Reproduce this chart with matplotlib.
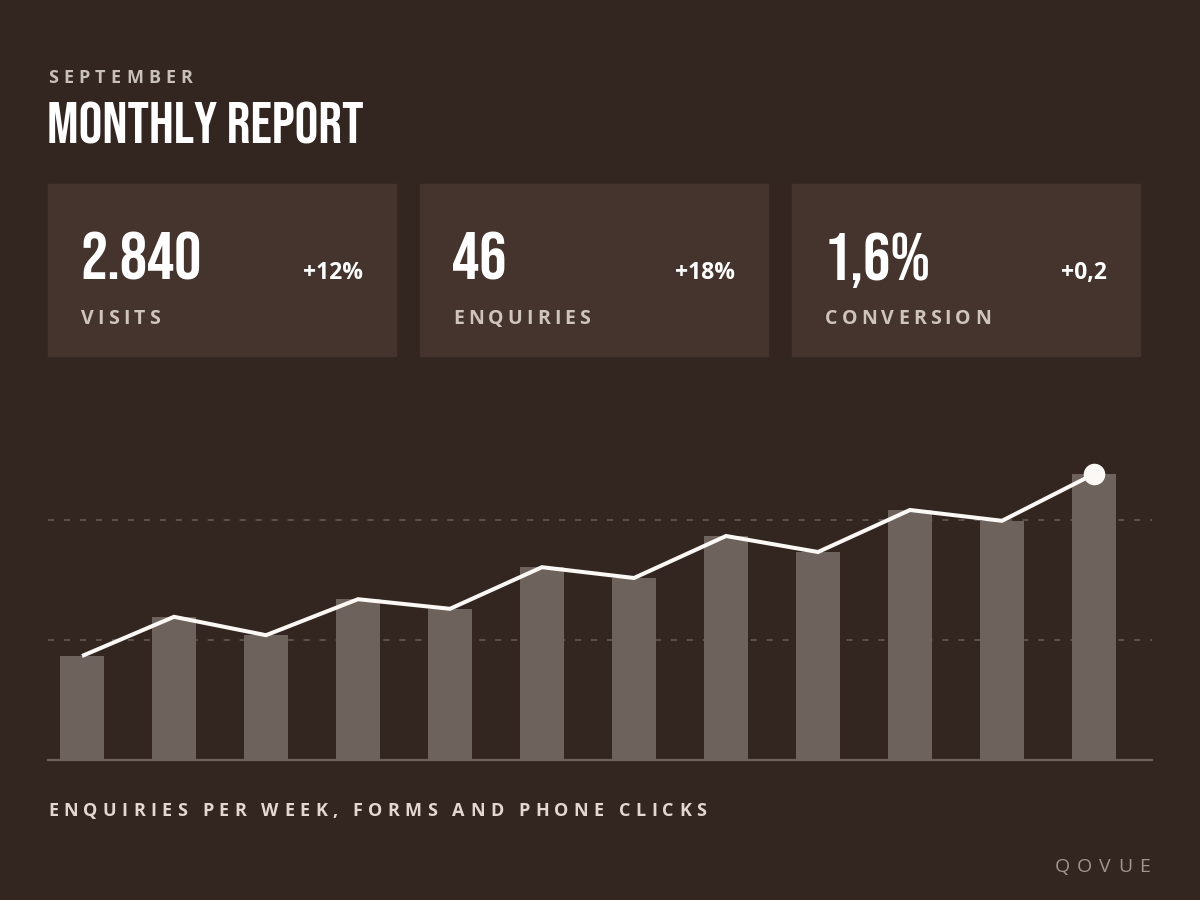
import matplotlib
matplotlib.use("Agg")
import matplotlib.pyplot as plt
from matplotlib.patches import Rectangle
import numpy as np

plt.rcParams['lines.scale_dashes'] = False

# weekly enquiries (forms + phone clicks)
weeks = list(range(1, 13))
enquiries = [26, 35.8, 31.2, 40.2, 37.8, 48.2, 45.5, 56, 52, 62.5, 59.8, 71.5]
gridlines = [30, 60]

kpi_values = ["2.840", "46", "1,6%"]
kpi_labels = ["VISITS", "ENQUIRIES", "CONVERSION"]
kpi_deltas = ["+12%", "+18%", "+0,2"]

BG = "#332621"
CARD = "#44342d"
BAR = "#6e625d"
GRID = "#6b5e58"

W, H = 1200, 900
fig = plt.figure(figsize=(12, 9), dpi=100, facecolor=BG)
renderer = fig.canvas.get_renderer()

COND = ['Bebas Neue', 'Oswald', 'Barlow Condensed', 'DejaVu Sans']
SANS = ['Open Sans', 'DejaVu Sans']


def px(x, y):
    return x / W, 1 - y / H


def spaced(x, y, s, spacing, ha='left', **kw):
    # draw text with letter spacing, one glyph at a time
    size = kw.get('fontsize', 12)
    widths = []
    for ch in s:
        if ch == ' ':
            widths.append(size * 100 / 72 * 0.26)
            continue
        t = fig.text(0, 0, ch, **kw)
        widths.append(t.get_window_extent(renderer).width)
        t.remove()
    total = sum(widths) + spacing * (len(s) - 1)
    cx = x - total if ha == 'right' else x
    for ch, w in zip(s, widths):
        if ch != ' ':
            fig.text(*px(cx, y), ch, va='baseline', ha='left', **kw)
        cx += w + spacing


# header
spaced(48, 83, "SEPTEMBER", 5.2, fontsize=13, family=SANS, weight='bold', color='#c9c0ba')
fig.text(*px(47, 143), "MONTHLY REPORT", fontsize=42.5, family=COND, color='white',
         va='baseline', ha='left')

# KPI cards
for i in range(3):
    left = 48 + i * 372
    fig.patches.append(Rectangle(px(left, 356), 348 / W, 172 / H,
                                 transform=fig.transFigure, color=CARD, zorder=0))
    fig.text(*px(left + 32, 280), kpi_values[i], fontsize=49, family=COND,
             color='white', va='baseline', ha='left')
    fig.text(*px(left + 315, 279), kpi_deltas[i], fontsize=16.5, family=SANS,
             weight='bold', color='white', va='baseline', ha='right')
    spaced(left + 33, 324, kpi_labels[i], 4.1, fontsize=14, family=SANS,
           weight='bold', color='#cfc5bd')

# chart
ax = fig.add_axes([48 / W, 140 / H, 1104 / W, 360 / H])
ax.set_facecolor('none')
x = np.arange(len(weeks))
for g in gridlines:
    ax.axhline(g, color=GRID, lw=1.1, dashes=(4.3, 7.2), zorder=1)
ax.bar(x, enquiries, width=44 / 92, color=BAR, zorder=2)
ax.axhline(0, color=BAR, lw=1.6, zorder=3, clip_on=False)
ax.plot(x, enquiries, color='#fbf8f5', lw=2.9, zorder=4,
        solid_joinstyle='miter', solid_capstyle='butt')
ax.plot(x[-1], enquiries[-1], 'o', ms=14.5, color='#fbf8f5', zorder=5, clip_on=False)
ax.set_xlim(-34 / 92, 11 + 58 / 92)
ax.set_ylim(0, 90)
ax.set_xticks([])
ax.set_yticks([])
for s in ax.spines.values():
    s.set_visible(False)

# footer
spaced(48, 816, "ENQUIRIES PER WEEK, FORMS AND PHONE CLICKS", 5.3, fontsize=13,
       family=SANS, weight='bold', color='#e2d8cf')
spaced(1150, 872, "QOVUE", 7.0, ha='right', fontsize=14,
       family=SANS, weight='normal', color='#a0958e')

fig.savefig("out.png", dpi=100, facecolor=BG)
